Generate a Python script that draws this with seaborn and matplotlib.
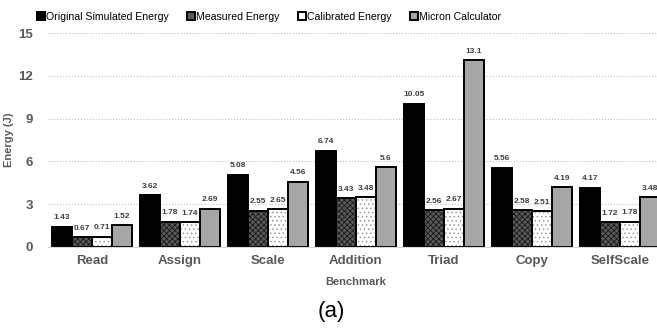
import pandas as pd
import matplotlib
matplotlib.use('Agg')
import matplotlib.pyplot as plt
import seaborn as sns

# --- Dados ---
benchmarks = ['Read', 'Assign', 'Scale', 'Addition', 'Triad', 'Copy', 'SelfScale']
series = ['Original Simulated Energy', 'Measured Energy', 'Calibrated Energy', 'Micron Calculator']
original = [1.43, 3.62, 5.08, 6.74, 10.05, 5.56, 4.17]
measured = [0.67, 1.78, 2.55, 3.43, 2.56, 2.58, 1.72]
calibrated = [0.71, 1.74, 2.65, 3.48, 2.67, 2.51, 1.78]
micron = [1.52, 2.69, 4.56, 5.6, 13.1, 4.19, 3.48]
yticks = [0, 3, 6, 9, 12, 15]

rows = []
for nome, vals in zip(series, [original, measured, calibrated, micron]):
    for b, v in zip(benchmarks, vals):
        rows.append({'Benchmark': b, 'Serie': nome, 'Energia': v})
df = pd.DataFrame(rows)

sns.set_style('white')
plt.rcParams['font.family'] = ['Liberation Sans', 'DejaVu Sans']
plt.rcParams['hatch.linewidth'] = 0.6

cores = ['#000000', '#595959', '#ffffff', '#a6a6a6']
hatches = [None, 'xxxxxx', '....', None]
hatch_cols = [None, '#1a1a1a', '#999999', None]
cinza = '#595959'

fig = plt.figure(figsize=(6.57, 3.28), dpi=100)
ax = fig.add_axes([0.073, 0.247, 0.9376, 0.652])

sns.barplot(data=df, x='Benchmark', y='Energia', hue='Serie', hue_order=series,
            palette=cores, width=0.91, edgecolor='black', linewidth=1.4,
            saturation=1, ax=ax, legend=True)

for i, cont in enumerate(ax.containers):
    for p in cont:
        if hatches[i]:
            p.set_hatch(hatches[i])
            p._hatch_color = matplotlib.colors.to_rgba(hatch_cols[i])
    labels = [f'{v:g}' for v in [original, measured, calibrated, micron][i]]
    ax.bar_label(cont, labels=labels, padding=4, fontsize=6,
                 fontweight='bold', color='#404040')

ax.set_xlim(-0.5, 6.5)
ax.set_ylim(0, 15)
ax.set_yticks(yticks)
ax.yaxis.grid(True, linestyle=':', color='#bfbfbf', linewidth=0.8)
ax.set_axisbelow(True)
for s in ['top', 'right', 'left']:
    ax.spines[s].set_visible(False)
ax.spines['bottom'].set_color('#d9d9d9')
ax.tick_params(axis='x', length=0, labelsize=9.5, labelcolor=cinza, pad=6)
ax.tick_params(axis='y', length=0, labelsize=9.5, labelcolor=cinza, pad=11)
for t in ax.get_xticklabels() + ax.get_yticklabels():
    t.set_fontweight('bold')
ax.set_ylabel('Energy (J)', fontsize=8, fontweight='bold', color=cinza, labelpad=3)
ax.set_xlabel('Benchmark', fontsize=8, fontweight='bold', color=cinza, labelpad=7)

leg = ax.legend(loc='upper left', bbox_to_anchor=(-0.025, 1.12), ncol=4, frameon=False,
                fontsize=7.6, handlelength=0.75, handleheight=0.75, handletextpad=0.15,
                columnspacing=1.7, borderaxespad=0)
for t in leg.get_texts():
    t.set_color('#000000')

fig.text(0.505, 0.05, '(a)', fontsize=16, ha='center', va='center', color='black')

plt.savefig('out.png', dpi=100)
